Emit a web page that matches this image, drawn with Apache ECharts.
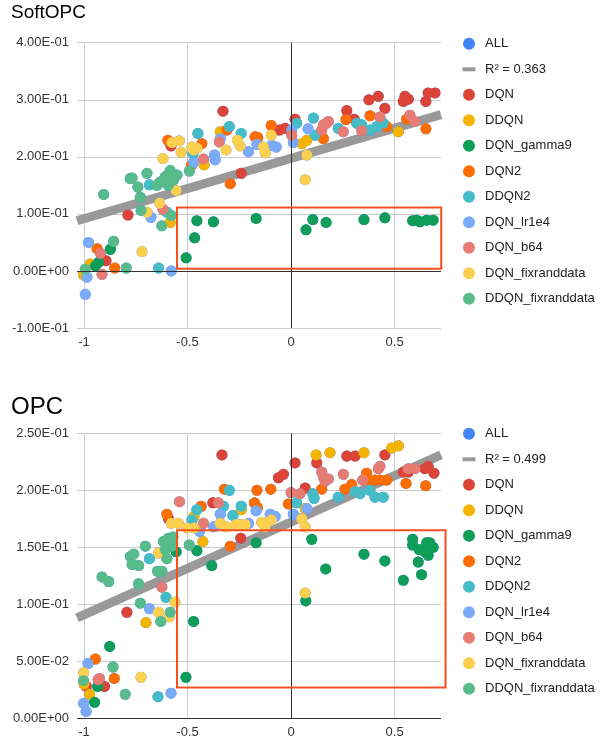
<!DOCTYPE html>
<html><head><meta charset="utf-8">
<script src="https://cdn.jsdelivr.net/npm/echarts@6/dist/echarts.min.js"></script>
<style>html,body{margin:0;padding:0;background:#fff}#c{width:610px;height:753px}</style>
</head><body><div id="c"></div>
<script>
// ---------- data ----------
const seriesNames = ['DQN','DDQN','DQN_gamma9','DQN2','DDQN2','DQN_lr1e4','DQN_b64','DQN_fixranddata','DDQN_fixranddata'];
const seriesColors = ['#DB4437','#F4B400','#0F9D58','#FF6D01','#46BDC6','#7BAAF7','#E67C73','#FCD04F','#57BB8A'];
const allColor = '#4285F4';
const xTicks = [-1, -0.5, 0, 0.5];

// SoftOPC (top)
const topDQN = [[-0.329,0.280],[-0.580,0.219],[-0.241,0.171],[-0.056,0.247],[-0.029,0.250],[0.019,0.266],[-0.788,0.098],[-0.894,0.018],[0.376,0.300],[0.421,0.306],[0.453,0.285],[0.269,0.281],[0.305,0.266],[0.550,0.306],[0.542,0.297],[0.566,0.301],[0.651,0.297],[0.662,0.312],[0.695,0.312]];
const topDDQN = [[-0.342,0.244],[-0.420,0.186],[-0.584,0.085],[-0.970,0.012],[-1.002,-0.007],[0.076,0.229],[0.518,0.244],[0.052,0.223]];
const topGamma9 = [[-0.507,0.023],[-0.466,0.058],[-0.455,0.088],[-0.375,0.086],[-0.169,0.092],[0.072,0.072],[0.105,0.090],[0.169,0.085],[0.352,0.090],[0.453,0.093],[0.587,0.088],[0.606,0.089],[0.622,0.086],[0.655,0.089],[0.686,0.089],[-0.873,0.038],[-0.930,0.015],[-0.945,0.009]];
const topDQN2 = [[-0.595,0.229],[-0.431,0.223],[-0.482,0.185],[-0.310,0.247],[-0.294,0.153],[-0.174,0.235],[-0.161,0.234],[-0.096,0.255],[-0.937,0.039],[-0.852,0.005],[0.265,0.265],[0.381,0.272],[0.651,0.249],[0.558,0.266],[0.156,0.232],[0.462,0.253]];
const topDDQN2 = [[-0.450,0.241],[-0.474,0.205],[-0.298,0.253],[-0.241,0.241],[-0.684,0.151],[-0.640,0.005],[0.027,0.259],[0.108,0.268],[0.116,0.238],[0.317,0.259],[0.341,0.256],[0.381,0.247],[0.413,0.253],[0.445,0.259],[0.228,0.250],[-0.600,0.103]];
const topLr1e4 = [[-0.471,0.190],[-0.370,0.203],[-0.367,0.195],[-0.342,0.232],[-0.206,0.209],[-0.165,0.222],[-0.093,0.220],[-0.072,0.217],[0.011,0.225],[0.082,0.249],[-0.677,0.094],[-0.978,0.050],[-0.986,-0.011],[-0.579,0.000],[-0.994,-0.041],[0.003,0.247]];
const topB64 = [[-0.423,0.196],[-0.347,0.226],[0.003,0.238],[-0.619,0.108],[-0.921,0.031],[-0.913,-0.006],[0.156,0.256],[0.172,0.259],[0.180,0.262],[0.148,0.247],[0.252,0.244],[0.341,0.246],[0.429,0.270],[0.574,0.273],[0.598,0.262]];
const topFix = [[-0.540,0.228],[-0.575,0.225],[-0.531,0.208],[-0.619,0.197],[-0.479,0.217],[-0.455,0.215],[-0.471,0.212],[-0.314,0.212],[-0.259,0.229],[-0.246,0.219],[-0.134,0.217],[-0.125,0.207],[-0.096,0.238],[0.076,0.203],[0.068,0.160],[-0.555,0.141],[-0.635,0.119],[-0.696,0.103],[-0.720,0.034]];
const topDFix = [[-0.491,0.175],[-0.584,0.176],[-0.608,0.165],[-0.616,0.156],[-0.568,0.159],[-0.551,0.168],[-0.592,0.150],[-0.648,0.150],[-0.632,0.156],[-0.696,0.171],[-0.768,0.163],[-0.777,0.162],[-0.740,0.147],[-0.905,0.134],[-0.728,0.129],[-0.724,0.106],[-0.579,0.097],[-0.624,0.079],[-0.857,0.052],[-0.994,0.003],[-0.796,0.005]];
const topTrend = [[-1.034,0.088],[0.724,0.274]];
const topR2 = 'R² = 0.363';
const topBox = [[-0.551,0.004],[0.725,0.111]];

// OPC (bottom)
const botDQN = [[-0.334,0.231],[0.019,0.224],[-0.061,0.211],[-0.037,0.214],[0.068,0.202],[-0.378,0.189],[-0.243,0.158],[-0.793,0.093],[-0.989,0.028],[-0.901,0.028],[0.269,0.230],[0.309,0.230],[0.453,0.231],[0.124,0.224],[0.542,0.216],[0.566,0.216],[0.646,0.219],[0.662,0.221],[0.690,0.215],[-0.592,0.175]];
const botDDQN = [[0.121,0.231],[0.188,0.233],[0.352,0.233],[0.486,0.237],[0.518,0.239],[0.068,0.184],[-0.426,0.155],[-0.701,0.084],[-0.973,0.021],[-1.000,0.030],[-0.241,0.183],[-0.469,0.177]];
const botGamma9 = [[-0.169,0.154],[-0.455,0.147],[-0.383,0.134],[-0.555,0.146],[-0.471,0.085],[-0.876,0.063],[-0.934,0.028],[-0.949,0.014],[-0.508,0.036],[0.100,0.157],[0.167,0.131],[0.352,0.144],[0.453,0.138],[0.542,0.121],[0.587,0.157],[0.587,0.152],[0.619,0.148],[0.614,0.137],[0.630,0.126],[0.655,0.154],[0.670,0.154],[0.686,0.150],[0.662,0.143],[0.646,0.146],[0.071,0.103]];
const botDQN2 = [[-0.322,0.201],[-0.165,0.200],[-0.098,0.201],[-0.434,0.186],[-0.177,0.189],[-0.163,0.185],[-0.013,0.188],[-0.600,0.179],[-0.294,0.151],[-0.945,0.052],[-0.854,0.035],[0.148,0.201],[0.260,0.201],[0.293,0.205],[0.365,0.215],[0.381,0.208],[0.405,0.209],[0.429,0.209],[0.462,0.209],[0.555,0.206],[0.650,0.204]];
const botDDQN2 = [[-0.298,0.200],[-0.455,0.183],[-0.327,0.186],[-0.241,0.186],[0.027,0.189],[-0.479,0.174],[-0.281,0.178],[-0.684,0.140],[-0.604,0.106],[-0.643,0.019],[0.105,0.197],[0.111,0.193],[0.228,0.194],[0.309,0.199],[0.333,0.197],[0.381,0.200],[0.405,0.194],[0.445,0.194]];
const botLr1e4 = [[-0.169,0.182],[0.011,0.179],[0.076,0.184],[-0.442,0.164],[-0.374,0.168],[-0.342,0.179],[-0.206,0.171],[-0.101,0.179],[-0.077,0.177],[-0.684,0.096],[-0.981,0.048],[-0.580,0.022],[-1.002,0.013],[-0.990,0.006]];
const botB64 = [[-0.539,0.190],[-0.351,0.189],[-0.423,0.171],[0.000,0.198],[0.043,0.197],[-0.624,0.115],[-0.925,0.035],[-0.932,0.034],[0.148,0.216],[0.156,0.212],[0.180,0.210],[0.164,0.208],[0.252,0.214],[0.421,0.219],[0.429,0.221],[0.346,0.209],[0.566,0.219],[0.598,0.219]];
const botFix = [[-0.579,0.171],[-0.544,0.171],[-0.468,0.167],[-0.503,0.167],[-0.342,0.171],[-0.313,0.168],[-0.265,0.170],[-0.246,0.170],[-0.222,0.170],[-0.142,0.172],[-0.125,0.168],[-0.096,0.174],[0.052,0.175],[0.068,0.168],[-0.640,0.145],[-0.560,0.102],[-0.640,0.093],[-0.588,0.089],[-1.002,0.040],[-0.725,0.036],[0.068,0.110]];
const botDFix = [[-0.492,0.152],[-0.704,0.151],[-0.616,0.155],[-0.592,0.158],[-0.575,0.151],[-0.608,0.148],[-0.571,0.159],[-0.600,0.140],[-0.624,0.129],[-0.776,0.142],[-0.760,0.144],[-0.768,0.135],[-0.736,0.134],[-0.645,0.129],[-0.913,0.124],[-0.881,0.120],[-0.737,0.118],[-0.728,0.101],[-0.584,0.093],[-0.629,0.085],[-0.860,0.045],[-1.002,0.033],[-0.801,0.021]];
const botTrend = [[-1.034,0.088],[0.724,0.231]];
const botR2 = 'R² = 0.499';
const botBox = [[-0.551,0.027],[0.746,0.165]];

const topSets = [topDQN, topDDQN, topGamma9, topDQN2, topDDQN2, topLr1e4, topB64, topFix, topDFix];
const botSets = [botDQN, botDDQN, botGamma9, botDQN2, botDDQN2, botLr1e4, botB64, botFix, botDFix];

// ---------- chart ----------
const FONT = '"Liberation Sans", Arial, sans-serif';
function fmtE(v){
  const s = Number(v).toExponential(2);
  const parts = s.split('e');
  const e = parts[1];
  return parts[0] + 'E' + e[0] + e.slice(1).padStart(2,'0');
}
const chart = echarts.init(document.getElementById('c'), null, {renderer:'canvas'});

function xAxisDef(g){
  return {
    type:'value', gridIndex:g, min:-1.034, max:0.724,
    axisLine:{show:false}, axisTick:{show:false, customValues:xTicks},
    axisLabel:{customValues:xTicks, color:'#333', fontSize:13, fontFamily:FONT, margin:8,
      formatter: v => String(v)},
    splitLine:{show:true, lineStyle:{color:'#cccccc', width:1}}
  };
}
function yAxisDef(g, min, max, interval){
  return {
    type:'value', gridIndex:g, min:min, max:max, interval:interval,
    axisLine:{show:false}, axisTick:{show:false},
    axisLabel:{color:'#333', fontSize:13, fontFamily:FONT, margin:8, formatter: fmtE},
    splitLine:{show:true, lineStyle:{color:'#cccccc', width:1}}
  };
}
const r2Icon = 'path://M0,0M22,12M4.5,4H17.5V8H4.5Z';
function legendDef(top, r2name){
  return {
    orient:'vertical', left:458, top:top, padding:0, itemWidth:22, itemHeight:12, itemGap:12.5,
    selectedMode:false,
    textStyle:{color:'#222', fontSize:13, fontFamily:FONT, lineHeight:12},
    data: [{name:'ALL', icon:'circle'}, {name:r2name, icon:r2Icon, itemStyle:{color:'#999999'}}]
      .concat(seriesNames.map(n => ({name:n, icon:'circle'})))
  };
}
function buildSeries(g, sets, trend, r2name){
  const all = [].concat(...sets);
  const out = [];
  out.push({
    name:'ALL', type:'scatter', xAxisIndex:g, yAxisIndex:g, data:all,
    symbolSize:11, itemStyle:{color:allColor, opacity:1}, silent:true, z:2,
    markLine:{silent:true, symbol:'none', label:{show:false},
      lineStyle:{color:'#333333', width:1, type:'solid'},
      data:[{xAxis:0},{yAxis:0}], animation:false}
  });
  out.push({
    name:r2name, type:'line', xAxisIndex:g, yAxisIndex:g, data:trend,
    symbol:'none', lineStyle:{color:'#999999', width:9, opacity:1}, itemStyle:{color:'#999999'},
    silent:true, z:2
  });
  sets.forEach((d,i) => out.push({
    name:seriesNames[i], type:'scatter', xAxisIndex:g, yAxisIndex:g, data:d,
    symbolSize:11, itemStyle:{color:seriesColors[i], opacity:1}, z:3
  }));
  return out;
}

chart.setOption({
  animation:false,
  textStyle:{fontFamily:FONT},
  title:[
    {text:'SoftOPC', left:11, top:3, padding:0, textStyle:{fontSize:19, fontWeight:'normal', color:'#000', fontFamily:FONT}},
    {text:'OPC', left:11, top:395, padding:0, textStyle:{fontSize:24, fontWeight:'normal', color:'#000', fontFamily:FONT}}
  ],
  grid:[
    {left:77, right:169, top:42.7, bottom:425},
    {left:77, right:169, top:433.3, bottom:34.7}
  ],
  xAxis:[xAxisDef(0), xAxisDef(1)],
  yAxis:[yAxisDef(0,-0.1,0.4,0.1), yAxisDef(1,0,0.25,0.05)],
  legend:[legendDef(37.3, topR2), legendDef(427.3, botR2)],
  series: buildSeries(0, topSets, topTrend, topR2).concat(buildSeries(1, botSets, botTrend, botR2))
});

function boxGraphic(g, box){
  const a = chart.convertToPixel({gridIndex:g}, box[0]);
  const b = chart.convertToPixel({gridIndex:g}, box[1]);
  return {type:'rect', silent:true, z:100,
    shape:{x:Math.min(a[0],b[0]), y:Math.min(a[1],b[1]), width:Math.abs(b[0]-a[0]), height:Math.abs(b[1]-a[1])},
    style:{fill:'none', stroke:'#F4511E', lineWidth:2}};
}
chart.setOption({graphic:[boxGraphic(0, topBox), boxGraphic(1, botBox)]});
</script>
</body></html>
